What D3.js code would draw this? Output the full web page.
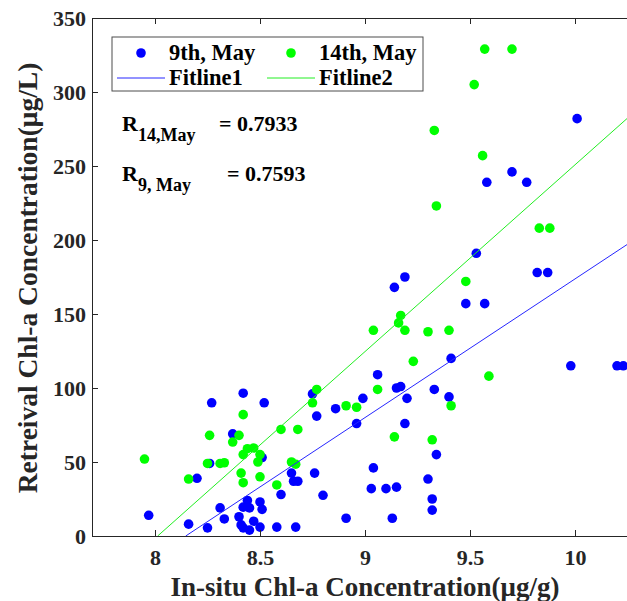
<!DOCTYPE html>
<html>
<head>
<meta charset="utf-8">
<script src="https://d3js.org/d3.v7.min.js"></script>
<style>
  body { margin: 0; background: #fff; }
  text { font-family: "Liberation Serif", "Times New Roman", serif; font-weight: bold; }
</style>
</head>
<body>
<svg id="chart" width="627" height="601"></svg>
<script>
// 9th, May points (in-situ, retrieval)
var may9X = [7.97, 8.16, 8.20, 8.25, 8.26, 8.27, 8.31, 8.33, 8.37, 8.40, 8.41, 8.42, 8.42, 8.42, 8.44, 8.45, 8.45, 8.47,
  8.50, 8.50, 8.51, 8.51, 8.52, 8.58, 8.60, 8.65, 8.66, 8.68, 8.67, 8.75, 8.76, 8.77, 8.80, 8.86, 8.91, 8.96, 8.99,
  9.03, 9.04, 9.06, 9.10, 9.13, 9.14, 9.15, 9.15, 9.17, 9.19, 9.19, 9.20, 9.30, 9.32, 9.32, 9.33, 9.34, 9.40, 9.41,
  9.48, 9.53, 9.57, 9.58, 9.70, 9.77, 9.82, 9.87, 9.98, 10.01, 10.20, 10.23];
var may9Y = [14, 8, 39, 5.5, 49, 90, 19, 11.5, 69, 13, 7.5, 5.5, 19.5, 96.5, 24, 4, 19, 10,
  23, 6, 18, 53, 90, 6, 28, 42.5, 37, 37, 6, 96, 42.5, 81, 27.5, 86, 12, 76, 93,
  32, 46, 109, 32, 12, 168, 33, 100, 101, 76, 175, 93, 38.5, 25, 17.5, 99, 55, 94, 120,
  157, 191, 157, 239, 246, 239, 178, 178, 115, 282, 115, 115];

// 14th, May points
var may14X = [7.95, 8.16, 8.25, 8.26, 8.31, 8.33, 8.37, 8.40, 8.41, 8.42, 8.42, 8.42, 8.44, 8.47, 8.49, 8.50, 8.50,
  8.58, 8.60, 8.65, 8.67, 8.68, 8.75, 8.77, 8.91, 8.96, 9.04, 9.06, 9.14, 9.16, 9.17, 9.19, 9.23, 9.30, 9.32,
  9.33, 9.34, 9.40, 9.41, 9.48, 9.52, 9.56, 9.57, 9.59, 9.70, 9.83, 9.88];
var may14Y = [52, 38.5, 49, 68, 49, 49.5, 63.5, 68, 42.5, 36, 55, 82, 59, 59.5, 50, 55, 40,
  34.5, 72, 50, 48.5, 72, 90, 99, 88, 87, 139, 99, 67, 144, 149, 139, 118, 138, 65,
  274, 223, 139, 88, 172, 305, 257, 329, 108, 329, 208, 208];

// fit lines: slope, intercept
var fit1 = [93.7, -763.3];
var fit2 = [126.2, -1011.2];

var xTicks = [8, 8.5, 9, 9.5, 10];
var yTicks = [0, 50, 100, 150, 200, 250, 300, 350];
var legendNames = ["9th, May", "14th, May", "Fitline1", "Fitline2"];

var svg = d3.select("#chart");
var mLeft = 92, mTop = 18, mBottom = 536, mRight = 638;

var x = d3.scaleLinear().domain([7.7, 10.3]).range([mLeft, mRight]);
var y = d3.scaleLinear().domain([0, 350]).range([mBottom, mTop]);

var axisColor = "#262626";

// points
var g = svg.append("g");
function dots(xs, ys, col) {
  g.append("g").selectAll("circle").data(xs).join("circle")
    .attr("cx", function(d) { return x(d); })
    .attr("cy", function(d, i) { return y(ys[i]); })
    .attr("r", 4.8)
    .attr("fill", col);
}
dots(may9X, may9Y, "#0000ff");
dots(may14X, may14Y, "#00ff00");

// fit lines, clipped to the axes box
svg.append("clipPath").attr("id", "clip").append("rect")
  .attr("x", mLeft).attr("y", mTop).attr("width", mRight - mLeft).attr("height", mBottom - mTop);
function fitLine(f, col) {
  var x0 = -f[1] / f[0];
  var x1 = 10.3;
  g.append("line")
    .attr("clip-path", "url(#clip)")
    .attr("x1", x(x0)).attr("y1", y(0))
    .attr("x2", x(x1)).attr("y2", y(f[0] * x1 + f[1]))
    .attr("stroke", col).attr("stroke-width", 1);
}
fitLine(fit1, "#2626ff");
fitLine(fit2, "#22ee22");

// axes (ticks inside)
var xAxis = d3.axisBottom(x).tickValues(xTicks).tickSize(-6).tickPadding(13).tickFormat(d3.format("~g"));
var yAxis = d3.axisLeft(y).tickValues(yTicks).tickSize(-6).tickPadding(6);
var gx = svg.append("g").attr("transform", "translate(0," + mBottom + ")").call(xAxis);
var gy = svg.append("g").attr("transform", "translate(" + mLeft + ",0)").call(yAxis);
var gxt = svg.append("g").attr("transform", "translate(0," + mTop + ")")
  .call(d3.axisTop(x).tickValues(xTicks).tickSize(-6).tickFormat(""));
[gx, gy, gxt].forEach(function(a) {
  a.select(".domain").attr("stroke", axisColor).attr("stroke-width", 1);
  a.selectAll(".tick line").attr("stroke", axisColor);
  a.selectAll(".tick text").attr("fill", axisColor)
    .style("font-family", '"Liberation Serif", serif').style("font-weight", "bold").style("font-size", "22px");
});

// axis labels
svg.append("text")
  .attr("x", 365).attr("y", 596)
  .attr("text-anchor", "middle").attr("fill", axisColor)
  .style("font-size", "27px")
  .text("In-situ Chl-a Concentration(μg/g)");
svg.append("text")
  .attr("transform", "translate(37,278) rotate(-90)")
  .attr("text-anchor", "middle").attr("fill", axisColor)
  .style("font-size", "27.5px")
  .text("Retreival Chl-a Concentration(μg/L)");

// legend
var lg = svg.append("g");
lg.append("rect").attr("x", 112).attr("y", 37).attr("width", 311).attr("height", 54)
  .attr("fill", "#fff").attr("stroke", "#4d4d4d").attr("stroke-width", 1);
var legendCols = ["#0000ff", "#00ff00", "#2626ff", "#22ee22"];
legendNames.forEach(function(name, i) {
  var cx = i % 2 === 0 ? 117 : 267;
  var cy = i < 2 ? 53 : 78;
  if (i < 2) {
    lg.append("circle").attr("cx", cx + 24).attr("cy", cy).attr("r", 4.8).attr("fill", legendCols[i]);
  } else {
    lg.append("line").attr("x1", cx).attr("x2", cx + 48).attr("y1", cy).attr("y2", cy)
      .attr("stroke", legendCols[i]).attr("stroke-width", 1);
  }
  lg.append("text").attr("x", cx + 52).attr("y", cy + 7).attr("fill", "#000")
    .style("font-size", "22.5px").text(name);
});

// correlation notes
function rText(yy, sub, val, vx) {
  var t = svg.append("text").attr("x", 122).attr("y", yy).attr("fill", "#000").style("font-size", "22px");
  t.append("tspan").text("R");
  t.append("tspan").attr("dy", 10).style("font-size", "18px").text(sub);
  t.append("tspan").attr("dy", -10).attr("x", vx).text("= " + val);
}
rText(131, "14,May", "0.7933", 219);
rText(181, "9, May", "0.7593", 227);
</script>
</body>
</html>
